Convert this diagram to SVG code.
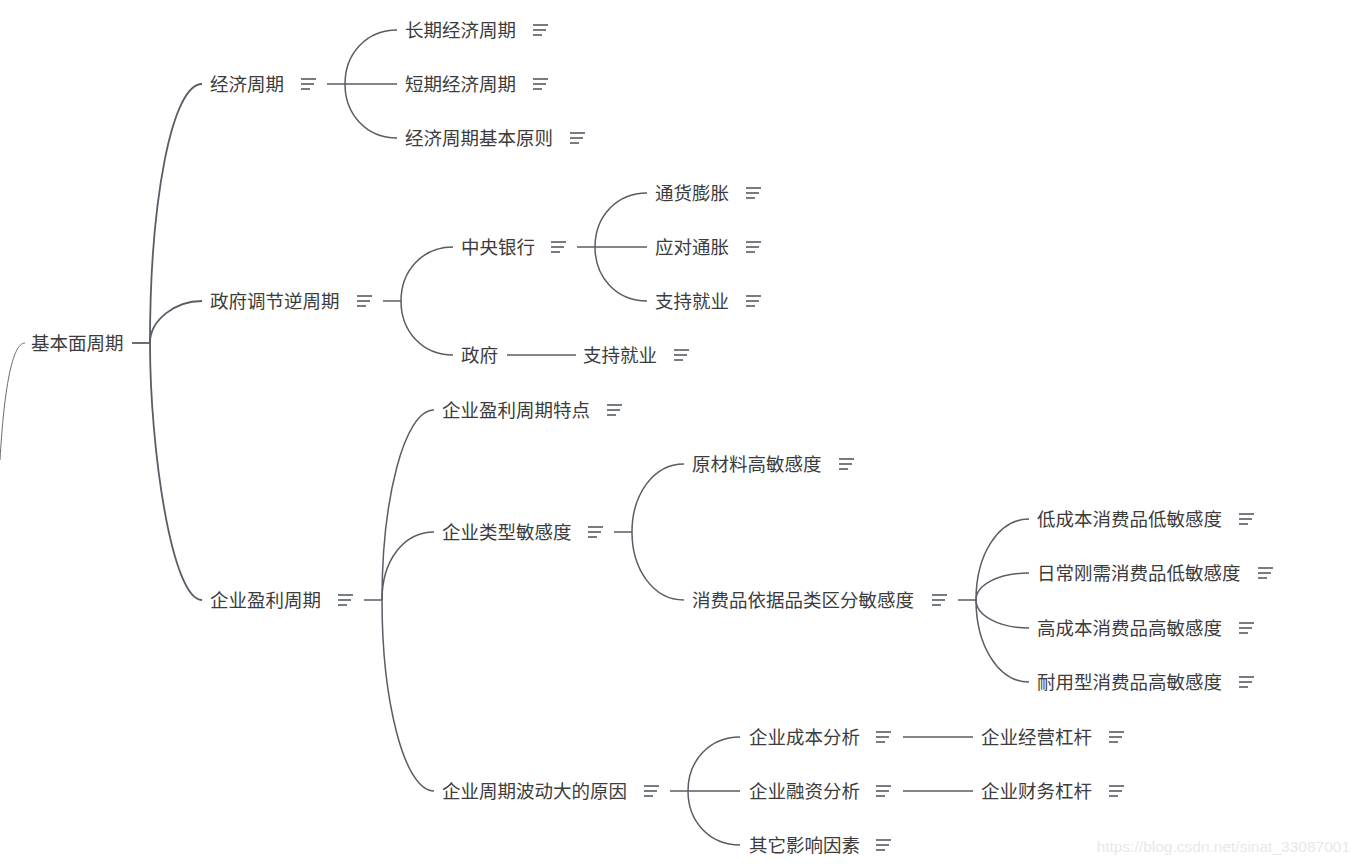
<svg xmlns="http://www.w3.org/2000/svg" width="1357" height="864" viewBox="0 0 1357 864">
<defs>
<style>
.t{font-family:"Microsoft YaHei","Noto Sans CJK SC","Noto Sans",sans-serif;font-size:18.5px;fill:#3c3c3c;dominant-baseline:central}
.c{fill:none;stroke:#585d66;stroke-width:1.5}
.c2{fill:none;stroke:#585d66;stroke-width:1.8}
.ic{stroke:#4a4f58;stroke-width:1.5}
.wm{font-family:"Liberation Sans",Arial,sans-serif;font-size:15.5px;fill:#e8e8e8}
</style>
<g id="note">
<line class="ic" x1="0" y1="-5" x2="15" y2="-5"/>
<line class="ic" x1="0" y1="0" x2="13" y2="0"/>
<line class="ic" x1="0" y1="5" x2="9" y2="5"/>
</g>
</defs>
<rect width="1357" height="864" fill="#ffffff"/>
<g id="connectors">
<path d="M25,343 C12,343 4,390 0,460" fill="none" stroke="#6a6e75" stroke-width="1"/>
<line class="c2" x1="132" y1="343" x2="150" y2="343"/>
<path class="c2" d="M150,343 C150,200 172,84 202,84"/>
<path class="c2" d="M150,343 C150,320 175,301 202,301"/>
<path class="c2" d="M150,343 C150,450 172,600 202,600"/>
<line class="c" x1="327" y1="84" x2="345" y2="84"/>
<path class="c" d="M345,84 C345,54 366,30 397,30"/>
<line class="c" x1="345" y1="84" x2="397" y2="84"/>
<path class="c" d="M345,84 C345,114 366,138 397,138"/>
<line class="c" x1="383" y1="301" x2="401" y2="301"/>
<path class="c" d="M401,301 C401,271 422,247 453,247"/>
<path class="c" d="M401,301 C401,331 422,355 453,355"/>
<line class="c" x1="577" y1="247" x2="595" y2="247"/>
<path class="c" d="M595,247 C595,217 616,193 647,193"/>
<line class="c" x1="595" y1="247" x2="647" y2="247"/>
<path class="c" d="M595,247 C595,277 616,301 647,301"/>
<line class="c" x1="507" y1="355" x2="576" y2="355"/>
<line class="c" x1="364" y1="600" x2="382" y2="600"/>
<path class="c" d="M382,600 C382,500 404,410 434,410"/>
<path class="c" d="M382,600 C382,560 404,532 434,532"/>
<path class="c" d="M382,600 C382,700 404,791 434,791"/>
<line class="c" x1="614" y1="532" x2="632" y2="532"/>
<path class="c" d="M632,532 C632,495 653,464 684,464"/>
<path class="c" d="M632,532 C632,569 653,600 684,600"/>
<line class="c" x1="958" y1="600" x2="976" y2="600"/>
<path class="c" d="M976,600 C976,555 998,519 1029,519"/>
<path class="c" d="M976,600 C976,585 998,573 1029,573"/>
<path class="c" d="M976,600 C976,615 998,628 1029,628"/>
<path class="c" d="M976,600 C976,645 998,682 1029,682"/>
<line class="c" x1="670" y1="791" x2="688" y2="791"/>
<path class="c" d="M688,791 C688,761 709,737 740,737"/>
<line class="c" x1="688" y1="791" x2="740" y2="791"/>
<path class="c" d="M688,791 C688,821 709,845 740,845"/>
<line class="c" x1="903" y1="737" x2="973" y2="737"/>
<line class="c" x1="903" y1="791" x2="973" y2="791"/>
</g>
<g id="n-root"><text class="t" x="31" y="342">基本面周期</text></g>
<g id="n-jjzq"><text class="t" x="210" y="83">经济周期</text><use href="#note" x="301" y="84"/></g>
<g id="n-cqjjzq"><text class="t" x="405" y="29">长期经济周期</text><use href="#note" x="533" y="30"/></g>
<g id="n-dqjjzq"><text class="t" x="405" y="83">短期经济周期</text><use href="#note" x="533" y="84"/></g>
<g id="n-jjzqjbyz"><text class="t" x="405" y="137">经济周期基本原则</text><use href="#note" x="570" y="138"/></g>
<g id="n-zftj"><text class="t" x="210" y="300">政府调节逆周期</text><use href="#note" x="357" y="301"/></g>
<g id="n-zyyh"><text class="t" x="461" y="246">中央银行</text><use href="#note" x="551" y="247"/></g>
<g id="n-thpz"><text class="t" x="655" y="192">通货膨胀</text><use href="#note" x="746" y="193"/></g>
<g id="n-ydtz"><text class="t" x="655" y="246">应对通胀</text><use href="#note" x="746" y="247"/></g>
<g id="n-zcjy1"><text class="t" x="655" y="300">支持就业</text><use href="#note" x="746" y="301"/></g>
<g id="n-zf"><text class="t" x="461" y="354">政府</text></g>
<g id="n-zcjy2"><text class="t" x="583" y="354">支持就业</text><use href="#note" x="674" y="355"/></g>
<g id="n-qyylzq"><text class="t" x="210" y="599">企业盈利周期</text><use href="#note" x="338" y="600"/></g>
<g id="n-qyylzqtd"><text class="t" x="442" y="409">企业盈利周期特点</text><use href="#note" x="607" y="410"/></g>
<g id="n-qylxmgd"><text class="t" x="442" y="531">企业类型敏感度</text><use href="#note" x="588" y="532"/></g>
<g id="n-ycl"><text class="t" x="692" y="463">原材料高敏感度</text><use href="#note" x="839" y="464"/></g>
<g id="n-xfp"><text class="t" x="692" y="599">消费品依据品类区分敏感度</text><use href="#note" x="932" y="600"/></g>
<g id="n-dcb"><text class="t" x="1037" y="518">低成本消费品低敏感度</text><use href="#note" x="1239" y="519"/></g>
<g id="n-rcgx"><text class="t" x="1037" y="572">日常刚需消费品低敏感度</text><use href="#note" x="1258" y="573"/></g>
<g id="n-gcb"><text class="t" x="1037" y="627">高成本消费品高敏感度</text><use href="#note" x="1239" y="628"/></g>
<g id="n-nyx"><text class="t" x="1037" y="681">耐用型消费品高敏感度</text><use href="#note" x="1239" y="682"/></g>
<g id="n-qyzqbd"><text class="t" x="442" y="790">企业周期波动大的原因</text><use href="#note" x="644" y="791"/></g>
<g id="n-qycb"><text class="t" x="749" y="736">企业成本分析</text><use href="#note" x="876" y="737"/></g>
<g id="n-qyrz"><text class="t" x="749" y="790">企业融资分析</text><use href="#note" x="876" y="791"/></g>
<g id="n-qtyx"><text class="t" x="749" y="844">其它影响因素</text><use href="#note" x="876" y="845"/></g>
<g id="n-qyjy"><text class="t" x="981" y="736">企业经营杠杆</text><use href="#note" x="1109" y="737"/></g>
<g id="n-qycw"><text class="t" x="981" y="790">企业财务杠杆</text><use href="#note" x="1109" y="791"/></g>
<text class="wm" x="1350" y="852" text-anchor="end">https://blog.csdn.net/sinat_33087001</text>
</svg>
